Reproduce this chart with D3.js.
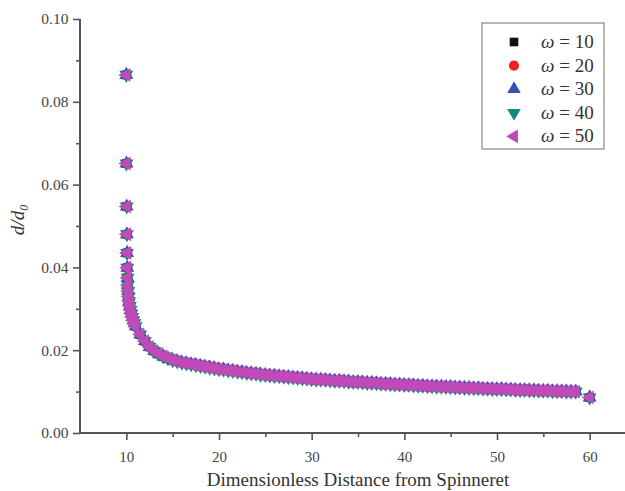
<!DOCTYPE html>
<html>
<head>
<meta charset="utf-8">
<script src="https://cdn.jsdelivr.net/npm/d3@7/dist/d3.min.js"></script>
<style>
  html, body { margin: 0; padding: 0; background: #fff; }
  svg { display: block; }
  text { font-family: "Liberation Serif", "DejaVu Serif", serif; }
</style>
</head>
<body>
<svg id="chart" width="625" height="491"></svg>
<script>
// Dimensionless distance from the spinneret (shared by every ω run)
const distance = [
  10.00, 10.02, 10.04, 10.06, 10.08, 10.10, 10.13, 10.16, 10.20, 10.25,
  10.31, 10.38, 10.46, 10.55, 10.65, 10.76, 10.88,
  11.0, 11.5, 12.0, 12.5, 13.0, 13.5, 14.0, 14.5, 15.0, 15.5,
  16.0, 16.5, 17.0, 17.5, 18.0, 18.5, 19.0, 19.5, 20.0, 20.5,
  21.0, 21.5, 22.0, 22.5, 23.0, 23.5, 24.0, 24.5, 25.0, 25.5,
  26.0, 26.5, 27.0, 27.5, 28.0, 28.5, 29.0, 29.5, 30.0, 30.5,
  31.0, 31.5, 32.0, 32.5, 33.0, 33.5, 34.0, 34.5, 35.0, 35.5,
  36.0, 36.5, 37.0, 37.5, 38.0, 38.5, 39.0, 39.5, 40.0, 40.5,
  41.0, 41.5, 42.0, 42.5, 43.0, 43.5, 44.0, 44.5, 45.0, 45.5,
  46.0, 46.5, 47.0, 47.5, 48.0, 48.5, 49.0, 49.5, 50.0, 50.5,
  51.0, 51.5, 52.0, 52.5, 53.0, 53.5, 54.0, 54.5, 55.0, 55.5,
  56.0, 56.5, 57.0, 57.5, 58.0, 58.5, 60.0
];

// Jet diameter ratio d/d0 (the five ω runs lie on top of each other)
const ratio = [
  0.0865, 0.0651, 0.0547, 0.0480, 0.0435, 0.0399, 0.0375, 0.0357, 0.0343, 0.0330,
  0.0318, 0.0307, 0.0297, 0.0288, 0.0280, 0.0272, 0.0265,
  0.0258, 0.0238, 0.0222, 0.0208, 0.0198, 0.0191, 0.0185, 0.0180, 0.0176, 0.0173,
  0.0170, 0.0168, 0.0166, 0.0164, 0.0162, 0.0160, 0.0158, 0.0156, 0.0154, 0.0153,
  0.0151, 0.0150, 0.0148, 0.0147, 0.0145, 0.0144, 0.0143, 0.0141, 0.0140, 0.0139,
  0.0138, 0.0137, 0.0136, 0.0135, 0.0134, 0.0133, 0.0132, 0.0131, 0.0130, 0.0129,
  0.0129, 0.0128, 0.0127, 0.0126, 0.0126, 0.0125, 0.0124, 0.0123, 0.0123, 0.0122,
  0.0121, 0.0121, 0.0120, 0.0119, 0.0119, 0.0118, 0.0117, 0.0117, 0.0116, 0.0116,
  0.0115, 0.0114, 0.0114, 0.0113, 0.0113, 0.0112, 0.0112, 0.0111, 0.0111, 0.0110,
  0.0110, 0.0109, 0.0109, 0.0108, 0.0108, 0.0107, 0.0107, 0.0106, 0.0106, 0.0106,
  0.0105, 0.0105, 0.0104, 0.0104, 0.0104, 0.0103, 0.0103, 0.0102, 0.0102, 0.0102,
  0.0101, 0.0101, 0.0101, 0.0100, 0.0100, 0.0100, 0.0086
];

const omegas = [10, 20, 30, 40, 50];

const xTicks = [10, 20, 30, 40, 50, 60];
const xMinorTicks = [15, 25, 35, 45, 55];
const yTicks = [0.00, 0.02, 0.04, 0.06, 0.08, 0.10];
const yMinorTicks = [0.01, 0.03, 0.05, 0.07, 0.09];

// marker styling for each ω run
const markerColors = ["#111111", "#ee2222", "#3a50b0", "#138a78", "#c04ab8"];
const markerShapes = [
  { type: d3.symbolSquare, size: 78, rotate: 0 },
  { type: d3.symbolCircle, size: 86, rotate: 0 },
  { type: d3.symbolTriangle, size: 84, rotate: 0 },
  { type: d3.symbolTriangle, size: 84, rotate: 180 },
  { type: d3.symbolTriangle, size: 84, rotate: -90 }
];

const svg = d3.select("#chart");

// x runs 5..65, the right end is clipped by the page edge
const x = d3.scaleLinear().domain([5, 65]).range([80, 636]);
const y = d3.scaleLinear().domain([0, 0.10]).range([433, 19]);

const axisColor = "#555";
const labelColor = "#444";

// x axis
const gx = svg.append("g").attr("transform", `translate(0,${y(0)})`);
gx.append("line")
  .attr("x1", x(5)).attr("x2", 625)
  .attr("stroke", axisColor).attr("stroke-width", 2);
gx.append("g")
  .call(d3.axisBottom(x).tickValues(xTicks).tickSize(7).tickFormat(d3.format("d")))
  .call(a => a.select(".domain").remove())
  .call(a => a.selectAll(".tick line").attr("stroke", axisColor).attr("stroke-width", 1.6))
  .call(a => a.selectAll(".tick text")
    .attr("fill", labelColor)
    .attr("font-size", 15)
    .attr("font-family", "Liberation Serif, serif")
    .attr("dy", "1.25em"));
gx.append("g")
  .call(d3.axisBottom(x).tickValues(xMinorTicks).tickSize(4).tickFormat(""))
  .call(a => a.select(".domain").remove())
  .call(a => a.selectAll(".tick line").attr("stroke", axisColor).attr("stroke-width", 1.6));

// y axis
const gy = svg.append("g").attr("transform", `translate(${x(5)},0)`);
gy.append("line")
  .attr("y1", y(0.10)).attr("y2", y(0))
  .attr("stroke", axisColor).attr("stroke-width", 2);
gy.append("g")
  .call(d3.axisLeft(y).tickValues(yTicks).tickSize(7).tickFormat(d3.format(".2f")))
  .call(a => a.select(".domain").remove())
  .call(a => a.selectAll(".tick line").attr("stroke", axisColor).attr("stroke-width", 1.6))
  .call(a => a.selectAll(".tick text")
    .attr("fill", labelColor)
    .attr("font-size", 15.5)
    .attr("font-family", "Liberation Serif, serif")
    .attr("dx", "-0.1em"));
gy.append("g")
  .call(d3.axisLeft(y).tickValues(yMinorTicks).tickSize(4).tickFormat(""))
  .call(a => a.select(".domain").remove())
  .call(a => a.selectAll(".tick line").attr("stroke", axisColor).attr("stroke-width", 1.6));

// axis titles
svg.append("text")
  .attr("x", 358).attr("y", 486)
  .attr("text-anchor", "middle")
  .attr("font-size", 19)
  .attr("fill", "#333")
  .text("Dimensionless Distance from Spinneret");

const yTitle = svg.append("text")
  .attr("transform", `translate(24,220) rotate(-90)`)
  .attr("text-anchor", "middle")
  .attr("font-size", 19)
  .attr("font-style", "italic")
  .attr("fill", "#333");
yTitle.append("tspan").text("d/d");
yTitle.append("tspan").attr("font-size", 12).attr("dy", 4).text("0");

// markers for every ω run, the last run drawn on top
const points = distance.map((d, i) => ({ x: d, y: ratio[i] }));
omegas.forEach((w, k) => {
  const shape = markerShapes[k];
  const sym = d3.symbol().type(shape.type).size(shape.size);
  svg.append("g").attr("class", "series")
    .selectAll("path")
    .data(points)
    .join("path")
    .attr("d", sym)
    .attr("fill", markerColors[k])
    .attr("transform", d => `translate(${x(d.x)},${y(d.y)}) rotate(${shape.rotate})`);
});

// legend
const legend = svg.append("g");
legend.append("rect")
  .attr("x", 482).attr("y", 23).attr("width", 122).attr("height", 126)
  .attr("fill", "#fff").attr("stroke", "#888").attr("stroke-width", 1.2);
omegas.forEach((w, k) => {
  const cy = 42 + k * 23.6;
  const shape = markerShapes[k];
  legend.append("path")
    .attr("d", d3.symbol().type(shape.type).size(shape.size * 0.95)())
    .attr("fill", markerColors[k])
    .attr("transform", `translate(514,${cy}) rotate(${shape.rotate})`);
  const t = legend.append("text")
    .attr("x", 541).attr("y", cy + 6)
    .attr("font-size", 19)
    .attr("fill", "#333");
  t.append("tspan").attr("font-style", "italic").text("ω");
  t.append("tspan").text(` = ${w}`);
});
</script>
</body>
</html>
